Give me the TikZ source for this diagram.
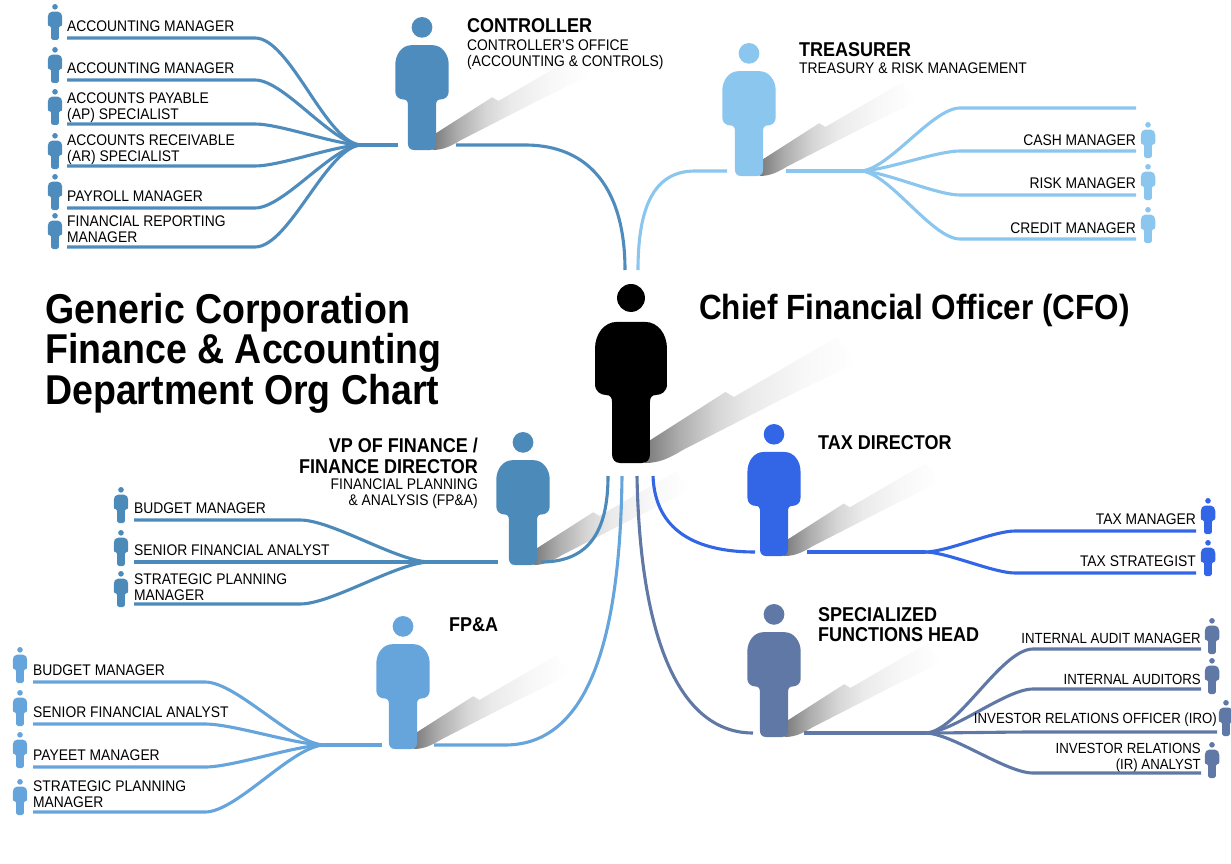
\documentclass[tikz,border=0pt]{standalone}
\usepackage{fontspec}
\setmainfont{Liberation Sans}[FakeStretch=0.9]
\definecolor{ctrlblue}{HTML}{4F8CBE}
\definecolor{treasblue}{HTML}{8AC6EE}
\definecolor{vpblue}{HTML}{4C8ABA}
\definecolor{taxblue}{HTML}{3366E6}
\definecolor{specblue}{HTML}{6078A5}
\definecolor{fpablue}{HTML}{66A4DC}
\pgfdeclarehorizontalshading{shadowfade}{100bp}{color(0bp)=(black!52); color(25bp)=(black!52); color(33bp)=(black!32); color(42bp)=(black!16); color(50bp)=(black!8); color(62bp)=(black!3); color(75bp)=(white); color(100bp)=(white)}
\tikzset{
  person/.pic={
    \fill[pic actions] (0,7.8) circle[radius=7.8];
    \fill[pic actions] (-8,21.2) -- (8,21.2) .. controls (15,21.2) and (20.1,28) .. (20.1,36) -- (20.1,56)
      .. controls (20.1,60) and (17,62) .. (14,62) .. controls (11.5,62) and (10.6,63.5) .. (10.6,66) -- (10.6,95)
      .. controls (10.6,98) and (9,100) .. (6,100) -- (-6,100) .. controls (-9,100) and (-10.6,98) .. (-10.6,95)
      -- (-10.6,66) .. controls (-10.6,63.5) and (-11.5,62) .. (-14,62) .. controls (-17,62) and (-20.1,60) .. (-20.1,56)
      -- (-20.1,36) .. controls (-20.1,28) and (-15,21.2) .. (-8,21.2) -- cycle;
  },
  falloff/.pic={
    \shade[shading=shadowfade]
      (10,87.7) -- (52.8,60.3) -- (57.5,63.1) -- (115,29.6) -- (126,44) -- (87,63) -- (29,92.7)
      .. controls (22,97) and (16,100) .. (8,100) -- cycle;
  },
  wire/.style={line width=3.1pt},
  lab/.style={font=\fontsize{15.4}{16}\selectfont,inner sep=0pt,align=left,anchor=west},
  labr/.style={font=\fontsize{15.4}{16}\selectfont,inner sep=0pt,align=right,anchor=east},
  labs/.style={font=\fontsize{14.7}{16}\selectfont,inner sep=0pt,align=right,anchor=east},
  head/.style={font=\bfseries\fontsize{20}{20.5}\selectfont,inner sep=0pt,anchor=west,align=left},
}
\begin{document}
\begin{tikzpicture}[x=1pt,y=-1pt]
  \useasboundingbox (0,0) rectangle (1231,864);
  \foreach \cx/\ty/\sc/\col in {631/284/1.79/black,422/17/1.33/ctrlblue,749/43/1.33/treasblue,523/432/1.33/vpblue,774/424/1.32/taxblue,774/604/1.33/specblue,403/616/1.33/fpablue} {
    \pic[scale=\sc] at (\cx,\ty) {falloff};
    \pic[fill=\col,scale=\sc] at (\cx,\ty) {person};
  }
  \node[font=\bfseries\fontsize{41.7}{40.5}\selectfont,inner sep=0pt,anchor=west,align=left] (title) at (45,353) {Generic Corporation\\Finance \& Accounting\\Department Org Chart};
  \node[font=\bfseries\fontsize{35}{38}\selectfont,inner sep=0pt,anchor=west] (cfolab) at (699,310) {Chief Financial Officer (CFO)};
  \coordinate (cfoa) at (608,476);
  \coordinate (cfob) at (622,476);
  \coordinate (cfoc) at (637,476);
  \coordinate (cfod) at (653,476);
  \coordinate (cfoe) at (625,270);
  \coordinate (cfof) at (638,270);

  \node[head] (ctrlhead) at (467,26) {CONTROLLER};
  \node[lab] (ctrlsub) at (467,55) {CONTROLLER'S OFFICE\\(ACCOUNTING \& CONTROLS)};
  \coordinate (ctrlhub) at (362,145);
  \coordinate (ctrlin) at (398,145);
  \coordinate (ctrlout) at (456,145);
  \draw[wire,ctrlblue] (ctrlhub) -- (ctrlin);
  \draw[wire,ctrlblue] (ctrlout) -- (525,145) .. controls (590,145) and (625,190) .. (cfoe);
  \foreach \i/\py/\ly/\ty/\lab in {1/4/38/26/ACCOUNTING MANAGER,2/47/80/68/ACCOUNTING MANAGER,3/89/124/108/{ACCOUNTS PAYABLE\\(AP) SPECIALIST},4/133/166/149.5/{ACCOUNTS RECEIVABLE\\(AR) SPECIALIST},5/174/208/196/PAYROLL MANAGER,6/213/247/229/{FINANCIAL REPORTING\\MANAGER}} {
    \pic[fill=ctrlblue,scale=.36] at (55,\py) {person};
    \node[lab] (ctrllab\i) at (67,\ty) {\lab};
    \coordinate (ctrlleaf\i) at (67,\ly);
    \coordinate (ctrlknee\i) at (255,\ly);
    \draw[wire,ctrlblue] (ctrlleaf\i) -- (ctrlknee\i) to[out=0,in=180,looseness=.6] (ctrlhub);
  }

  \node[head] (treashead) at (799,50) {TREASURER};
  \node[lab] (treassub) at (799,68.5) {TREASURY \& RISK MANAGEMENT};
  \coordinate (treashub) at (860,171);
  \coordinate (treasin) at (727,171);
  \coordinate (treasout) at (786,171);
  \draw[wire,treasblue] (treashub) -- (treasout);
  \draw[wire,treasblue] (treasin) -- (695,171) .. controls (655,171) and (638,205) .. (cfof);
  \coordinate (treasleaf0) at (1136,108);
  \coordinate (treasknee0) at (960,108);
  \draw[wire,treasblue] (treasleaf0) -- (treasknee0) to[out=180,in=0,looseness=.6] (treashub);
  \foreach \i/\py/\ly/\ty/\lab in {1/122/151/140/CASH MANAGER,2/164/195/183/RISK MANAGER,3/207/239/228/CREDIT MANAGER} {
    \pic[fill=treasblue,scale=.36] at (1148,\py) {person};
    \node[labr] (treaslab\i) at (1136,\ty) {\lab};
    \coordinate (treasleaf\i) at (1136,\ly);
    \coordinate (treasknee\i) at (960,\ly);
    \draw[wire,treasblue] (treasleaf\i) -- (treasknee\i) to[out=180,in=0,looseness=.6] (treashub);
  }

  \node[font=\bfseries\fontsize{20}{20.5}\selectfont,inner sep=0pt,anchor=east,align=right] (vphead) at (478,456) {VP OF FINANCE /\\FINANCE DIRECTOR};
  \node[labr] (vpsub) at (478,494) {FINANCIAL PLANNING\\\& ANALYSIS (FP\&A)};
  \coordinate (vphub) at (430,562);
  \coordinate (vpin) at (498,562);
  \coordinate (vpout) at (541,562);
  \draw[wire,vpblue] (vphub) -- (vpin);
  \draw[wire,vpblue] (vpout) .. controls (590,562) and (608,530) .. (cfoa);
  \foreach \i/\py/\ly/\ty/\lab in {1/487/520/508/BUDGET MANAGER,2/530/562/550/SENIOR FINANCIAL ANALYST,3/571/604/587/{STRATEGIC PLANNING\\MANAGER}} {
    \pic[fill=vpblue,scale=.36] at (121,\py) {person};
    \node[lab] (vplab\i) at (134,\ty) {\lab};
    \coordinate (vpleaf\i) at (134,\ly);
    \coordinate (vpknee\i) at (300,\ly);
    \draw[wire,vpblue] (vpleaf\i) -- (vpknee\i) to[out=0,in=180,looseness=.6] (vphub);
  }

  \node[head] (fpahead) at (449,625) {FP\&A};
  \coordinate (fpahub) at (325,745);
  \coordinate (fpain) at (382,745);
  \coordinate (fpaout) at (434,745);
  \draw[wire,fpablue] (fpahub) -- (fpain);
  \draw[wire,fpablue] (fpaout) -- (505,745) .. controls (580,745) and (620,660) .. (cfob);
  \foreach \i/\py/\ly/\ty/\lab in {1/647/682/670/BUDGET MANAGER,2/690/724/712/SENIOR FINANCIAL ANALYST,3/732/767/755/PAYEET MANAGER,4/779/812/794/{STRATEGIC PLANNING\\MANAGER}} {
    \pic[fill=fpablue,scale=.36] at (20,\py) {person};
    \node[lab] (fpalab\i) at (33,\ty) {\lab};
    \coordinate (fpaleaf\i) at (33,\ly);
    \coordinate (fpaknee\i) at (205,\ly);
    \draw[wire,fpablue] (fpaleaf\i) -- (fpaknee\i) to[out=0,in=180,looseness=.6] (fpahub);
  }

  \node[head] (taxhead) at (818,443) {TAX DIRECTOR};
  \coordinate (taxhub) at (925,552);
  \coordinate (taxin) at (755,552);
  \coordinate (taxout) at (807,552);
  \draw[wire,taxblue] (taxhub) -- (taxout);
  \draw[wire,taxblue] (taxin) .. controls (695,552) and (655,530) .. (cfod);
  \foreach \i/\py/\ly/\ty/\lab in {1/498/531/519/TAX MANAGER,2/540/573/561/TAX STRATEGIST} {
    \pic[fill=taxblue,scale=.36] at (1208,\py) {person};
    \node[labr] (taxlab\i) at (1196,\ty) {\lab};
    \coordinate (taxleaf\i) at (1196,\ly);
    \coordinate (taxknee\i) at (1015,\ly);
    \draw[wire,taxblue] (taxleaf\i) -- (taxknee\i) to[out=180,in=0,looseness=.6] (taxhub);
  }

  \node[head] (spechead) at (818,624.5) {SPECIALIZED\\FUNCTIONS HEAD};
  \coordinate (spechub) at (925,733);
  \coordinate (specin) at (753,733);
  \coordinate (specout) at (804,733);
  \draw[wire,specblue] (spechub) -- (specout);
  \draw[wire,specblue] (specin) .. controls (680,733) and (640,640) .. (cfoc);
  \foreach \i/\px/\py/\lx/\ly/\ty/\lab in {1/1212/618/1201/649/638/INTERNAL AUDIT MANAGER,2/1212/658/1201/689/679/INTERNAL AUDITORS,3/1226/700/1217/732/720/INVESTOR RELATIONS OFFICER (IRO),4/1212/742/1201/773/758/{INVESTOR RELATIONS\\(IR) ANALYST}} {
    \pic[fill=specblue,scale=.36] at (\px,\py) {person};
    \node[labs] (speclab\i) at (\lx,\ty) {\lab};
    \coordinate (specleaf\i) at (\lx,\ly);
    \coordinate (specknee\i) at (1033,\ly);
    \draw[wire,specblue] (specleaf\i) -- (specknee\i) to[out=180,in=0,looseness=.6] (spechub);
  }
\end{tikzpicture}
\end{document}
